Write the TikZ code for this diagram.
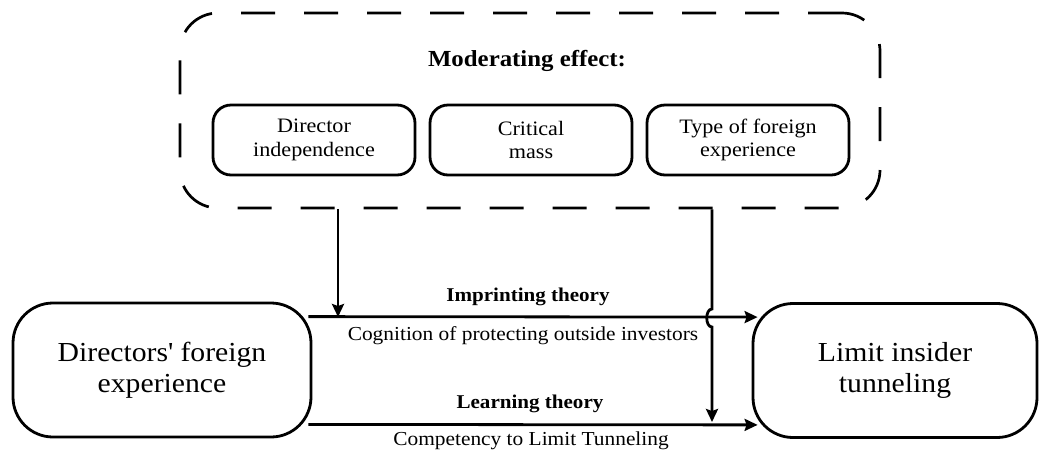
\documentclass[tikz,border=0pt]{standalone}
\usepackage{fontspec}
\setmainfont{Liberation Serif}[FakeStretch=1.08]
\usetikzlibrary{arrows.meta,calc}

\begin{document}
\begin{tikzpicture}[x=1pt, y=-1pt,
    modbox/.style={draw, line width=2.7pt, dash pattern=on 34pt off 29pt, rounded corners=38pt, minimum width=700pt, minimum height=195pt},
    small/.style={draw, line width=2.8pt, rounded corners=18pt, minimum width=202pt, minimum height=70pt, align=center, font=\fontsize{20.5}{23.5}\selectfont},
    big/.style={draw, line width=2.8pt, rounded corners=40pt, minimum height=134pt, align=center, font=\fontsize{27.5}{31}\selectfont},
    arr/.style={line width=2.8pt, -{Stealth[length=13pt,width=12pt,inset=2pt]}},
    lab/.style={font=\fontsize{19.8}{21}\selectfont},
    hd/.style={font=\bfseries\fontsize{19.5}{21}\selectfont}]
    \useasboundingbox (0,0) rectangle (1043,456);

    % Moderating effect
    \node[modbox] (mod) at (530,110.5) {};
    \node[font=\bfseries\fontsize{23}{26}\selectfont] (modtitle) at (527,61) {Moderating effect:};
    \node[small] (indep) at (314,140) {Director\\independence};
    \node[small] (mass) at (531,140) {Critical\\mass};
    \node[small] (type) at (748,140) {Type of foreign\\experience};

    % Main boxes
    \node[big, minimum width=298pt] (dfe) at (162,370) {Directors\textquotesingle{} foreign\\experience};
    \node[big, minimum width=284pt] (lit) at (895,370.5) {Limit insider\\tunneling};

    % Two routes
    \draw[arr] ($(dfe.north east)+(-4,15)$) -- ($(lit.north west)+(6,15)$);
    \draw[arr] ($(dfe.south east)+(-4,-14)$) -- ($(lit.south west)+(6,-14)$);
    \node[hd] (imptxt) at (528,297) {Imprinting theory};
    \node[lab] (cog) at (523,336) {Cognition of protecting outside investors};
    \node[hd] (lrntxt) at (530,404) {Learning theory};
    \node[lab] (comp) at (531,441) {Competency to Limit Tunneling};

    % Moderation arrows
    \coordinate (imp) at (338,317);
    \coordinate (lrn) at (712,422);
    \draw[arr] (mod.south -| imp) -- (imp);
    \draw[arr] (mod.south -| lrn) -- (712,309) .. controls (705,309) and (705,327) .. (712,327) -- (lrn);
\end{tikzpicture}
\end{document}
